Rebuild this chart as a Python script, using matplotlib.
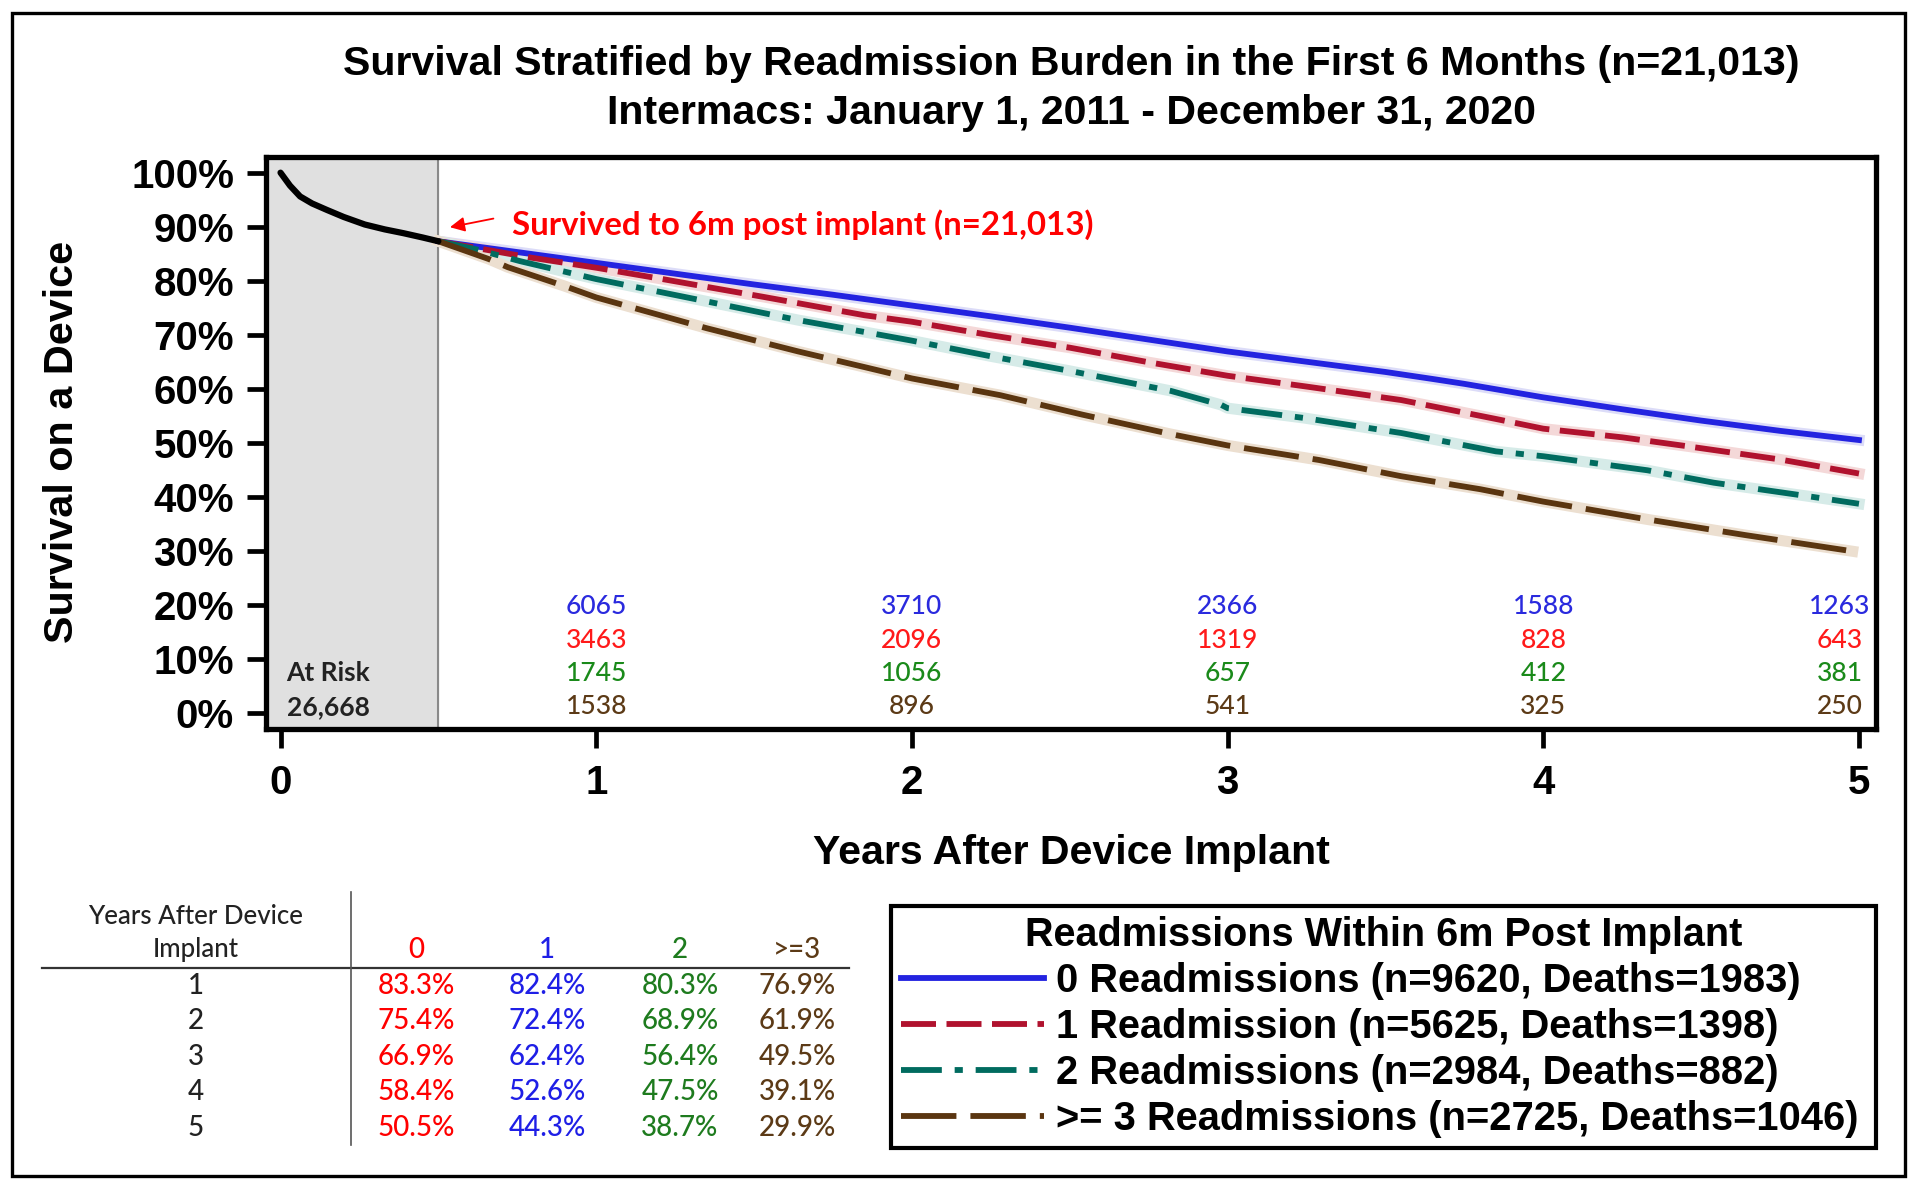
import numpy as np
import matplotlib.pyplot as plt
from matplotlib.patches import Rectangle

# curve before 6 months (all patients)
pre_t = [0, 0.03, 0.062, 0.10, 0.147, 0.20, 0.267, 0.33, 0.389, 0.45, 0.5]
pre_s = [100, 97.6, 95.6, 94.3, 93.1, 91.8, 90.4, 89.5, 88.8, 88.0, 87.3]

# survival curves after 6 months, by readmissions
t0 = [0.5, 0.75, 1.0, 1.25, 1.5, 1.75, 2.0, 2.25, 2.5, 2.75, 3.0, 3.25, 3.5, 3.65, 3.75, 4.0, 4.25, 4.5, 4.75, 5.0]
s0 = [87.3, 85.3, 83.3, 81.3, 79.3, 77.4, 75.4, 73.4, 71.3, 69.1, 66.9, 65.0, 63.1, 61.8, 60.9, 58.4, 56.2, 54.1, 52.2, 50.5]
t1 = [0.5, 0.79, 1.0, 1.21, 1.53, 1.85, 2.0, 2.25, 2.5, 2.75, 3.0, 3.25, 3.55, 3.85, 4.0, 4.25, 4.45, 4.75, 5.0]
s1 = [87.3, 84.3, 82.4, 80.3, 77.0, 73.6, 72.4, 69.9, 67.6, 64.9, 62.4, 60.4, 57.9, 54.4, 52.6, 51.0, 49.4, 46.9, 44.3]
t2 = [0.5, 0.62, 0.76, 1.0, 1.33, 1.64, 1.85, 2.0, 2.25, 2.5, 2.82, 2.98, 3.0, 3.24, 3.55, 3.85, 4.0, 4.33, 4.54, 4.85, 5.0]
s2 = [87.3, 85.8, 83.6, 80.3, 76.4, 72.7, 70.5, 68.9, 66.0, 63.3, 59.6, 57.0, 56.4, 54.6, 51.8, 48.4, 47.5, 44.9, 42.6, 40.0, 38.7]
t3 = [0.5, 0.66, 0.72, 0.9, 1.0, 1.35, 1.64, 1.85, 2.0, 2.28, 2.54, 2.82, 3.0, 3.29, 3.55, 3.8, 4.0, 4.33, 4.64, 4.98]
s3 = [87.3, 84.0, 82.5, 79.0, 76.9, 71.2, 66.9, 64.0, 61.9, 58.8, 55.2, 51.6, 49.5, 46.8, 43.8, 41.4, 39.1, 35.8, 32.9, 29.9]

legend_labels = ['0 Readmissions (n=9620, Deaths=1983)',
                 '1 Readmission (n=5625, Deaths=1398)',
                 '2 Readmissions (n=2984, Deaths=882)',
                 '>= 3 Readmissions (n=2725, Deaths=1046)']

# numbers at risk
risk_years = [1, 2, 3, 4, 5]
risk_0 = [6065, 3710, 2366, 1588, 1263]
risk_1 = [3463, 2096, 1319, 828, 643]
risk_2 = [1745, 1056, 657, 412, 381]
risk_3 = [1538, 896, 541, 325, 250]
risk_start = '26,668'

# survival table
tbl_years = [1, 2, 3, 4, 5]
tbl_cols = ['0', '1', '2', '>=3']
tbl_c0 = [83.3, 75.4, 66.9, 58.4, 50.5]
tbl_c1 = [82.4, 72.4, 62.4, 52.6, 44.3]
tbl_c2 = [80.3, 68.9, 56.4, 47.5, 38.7]
tbl_c3 = [76.9, 61.9, 49.5, 39.1, 29.9]

line_cols = ['#2323e0', '#b0122e', '#006b5f', '#5a3510']
halo_cols = ['#dcdcf8', '#f4d8d8', '#d6ebe8', '#ecdfd0']
styles = ['-', (0, (6, 1.8)), (0, (7, 2.2, 1.4, 2.2)), (0, (9.5, 2.4))]
text_cols = ['#2a2ade', '#ff1a1a', '#1a8a1a', '#5c3a16']
tbl_text_cols = ['#ff0000', '#1f1fe6', '#1e7b1e', '#5c3a16']

plt.rcParams['font.family'] = 'Liberation Sans'

fig = plt.figure(figsize=(19.2, 11.91), dpi=100)
ax = fig.add_axes([266 / 1920, 1 - 729 / 1191, 1610 / 1920, 572 / 1191])

ax.set_xlim(-0.046, 5.054)
ax.set_ylim(-3.0, 102.9)

# shaded first 6 months
ax.axvspan(-0.046, 0.5, color='#e0e0e0', zorder=0)
ax.axvline(0.5, color='#8a8a8a', lw=1.5, zorder=1)
ax.plot(pre_t, pre_s, color='black', lw=4.5, solid_capstyle='round', zorder=4)

lines = []
for t, s, c, h, ls, lab in zip([t0, t1, t2, t3], [s0, s1, s2, s3], line_cols,
                                halo_cols, styles, legend_labels):
    ax.plot(t, s, color=h, lw=8, zorder=2)
    ln, = ax.plot(t, s, color=c, lw=4.2, linestyle=ls, zorder=3, label=lab)
    lines.append(ln)

# annotation
ax.annotate('', xy=(0.528, 89.8), xytext=(0.683, 91.6),
            arrowprops=dict(arrowstyle='-|>', color='red', lw=1.3, mutation_scale=22))
ax.text(0.734, 90.3, 'Survived to 6m post implant (n=21,013)', color='red',
        family='Lato', weight='bold', fontsize=23.8, va='center')

# numbers at risk
risk_rows = [19.6, 13.3, 7.2, 1.1]
for vals, c, yy in zip([risk_0, risk_1, risk_2, risk_3], text_cols, risk_rows):
    for yr, v in zip(risk_years, vals):
        xx = yr if yr < 5 else 4.94
        ax.text(xx, yy, str(v), color=c, family='Lato', weight='medium',
                fontsize=19, ha='center', va='center')
ax.text(0.019, 7.4, 'At Risk', color='#222222', family='Lato', weight='bold',
        fontsize=19, va='center')
ax.text(0.019, 1.1, risk_start, color='#222222', family='Lato', weight='bold',
        fontsize=19, va='center')

# axes styling
ax.set_yticks(range(0, 101, 10))
ax.set_yticklabels([f'{v}%' for v in range(0, 101, 10)])
ax.set_xticks(range(0, 6))
for sp in ax.spines.values():
    sp.set_linewidth(3.8)
ax.tick_params(axis='both', direction='out', length=14, width=3.4,
               labelsize=29)
ax.tick_params(axis='y', pad=9)
ax.tick_params(axis='x', pad=11)
for lbl in ax.get_xticklabels() + ax.get_yticklabels():
    lbl.set_fontweight('bold')

ax.text(0.5, -0.217, 'Years After Device Implant', transform=ax.transAxes,
        ha='center', va='center', fontsize=29.6, weight='bold')
ax.text(-0.127, 0.502, 'Survival on a Device', transform=ax.transAxes,
        rotation=90, ha='center', va='center', fontsize=29.8, weight='bold')

# titles
fig.text(0.558, 1 - 64 / 1191, 'Survival Stratified by Readmission Burden in the First 6 Months (n=21,013)',
         ha='center', va='center', fontsize=29.6, weight='bold')
fig.text(0.558, 1 - 113 / 1191, 'Intermacs: January 1, 2011 - December 31, 2020',
         ha='center', va='center', fontsize=29.6, weight='bold')

# legend
leg = fig.legend(handles=lines, labels=legend_labels, loc='upper left',
                 bbox_to_anchor=(891 / 1920, 1 - 906 / 1191, 985 / 1920, 0.0),
                 mode='expand', borderaxespad=0, fancybox=False,
                 edgecolor='black', framealpha=1, handlelength=3.6,
                 handletextpad=0.3, borderpad=0.25, labelspacing=0.2,
                 prop=dict(family='Liberation Sans', weight='bold', size=28.7),
                 title='Readmissions Within 6m Post Implant',
                 title_fontproperties=dict(family='Liberation Sans', weight='bold', size=28.5))
leg.get_frame().set_linewidth(3)

# overlay in pixel coordinates for table and border
tab = fig.add_axes([0, 0, 1, 1])
tab.set_xlim(0, 1920)
tab.set_ylim(1191, 0)
tab.axis('off')

tab.add_patch(Rectangle((12, 13), 1893, 1163, fill=False, lw=2.4, edgecolor='black'))

col_x = [416, 547, 680, 797]
row_y = [986, 1021, 1057, 1092, 1128]
tab.text(196, 916, 'Years After Device', ha='center', va='center', family='Lato',
         weight='medium', fontsize=18.6, color='#222222')
tab.text(196, 950, 'Implant', ha='center', va='center', family='Lato',
         weight='medium', fontsize=18.6, color='#222222')
tab.plot([42, 849], [968, 968], color='#333333', lw=1.6)
tab.plot([351, 351], [892, 1145], color='#555555', lw=1.2)
for cx, name, c, vals in zip(col_x, tbl_cols, tbl_text_cols, [tbl_c0, tbl_c1, tbl_c2, tbl_c3]):
    tab.text(cx, 950, name, ha='center', va='center', family='Lato',
             weight='medium', fontsize=20, color=c)
    for ry, v in zip(row_y, vals):
        tab.text(cx, ry, f'{v:.1f}%', ha='center', va='center', family='Lato',
                 weight='medium', fontsize=20, color=c)
for ry, yr in zip(row_y, tbl_years):
    tab.text(196, ry, str(yr), ha='center', va='center', family='Lato',
             weight='medium', fontsize=20, color='#222222')

fig.savefig('out.png', dpi=100)
